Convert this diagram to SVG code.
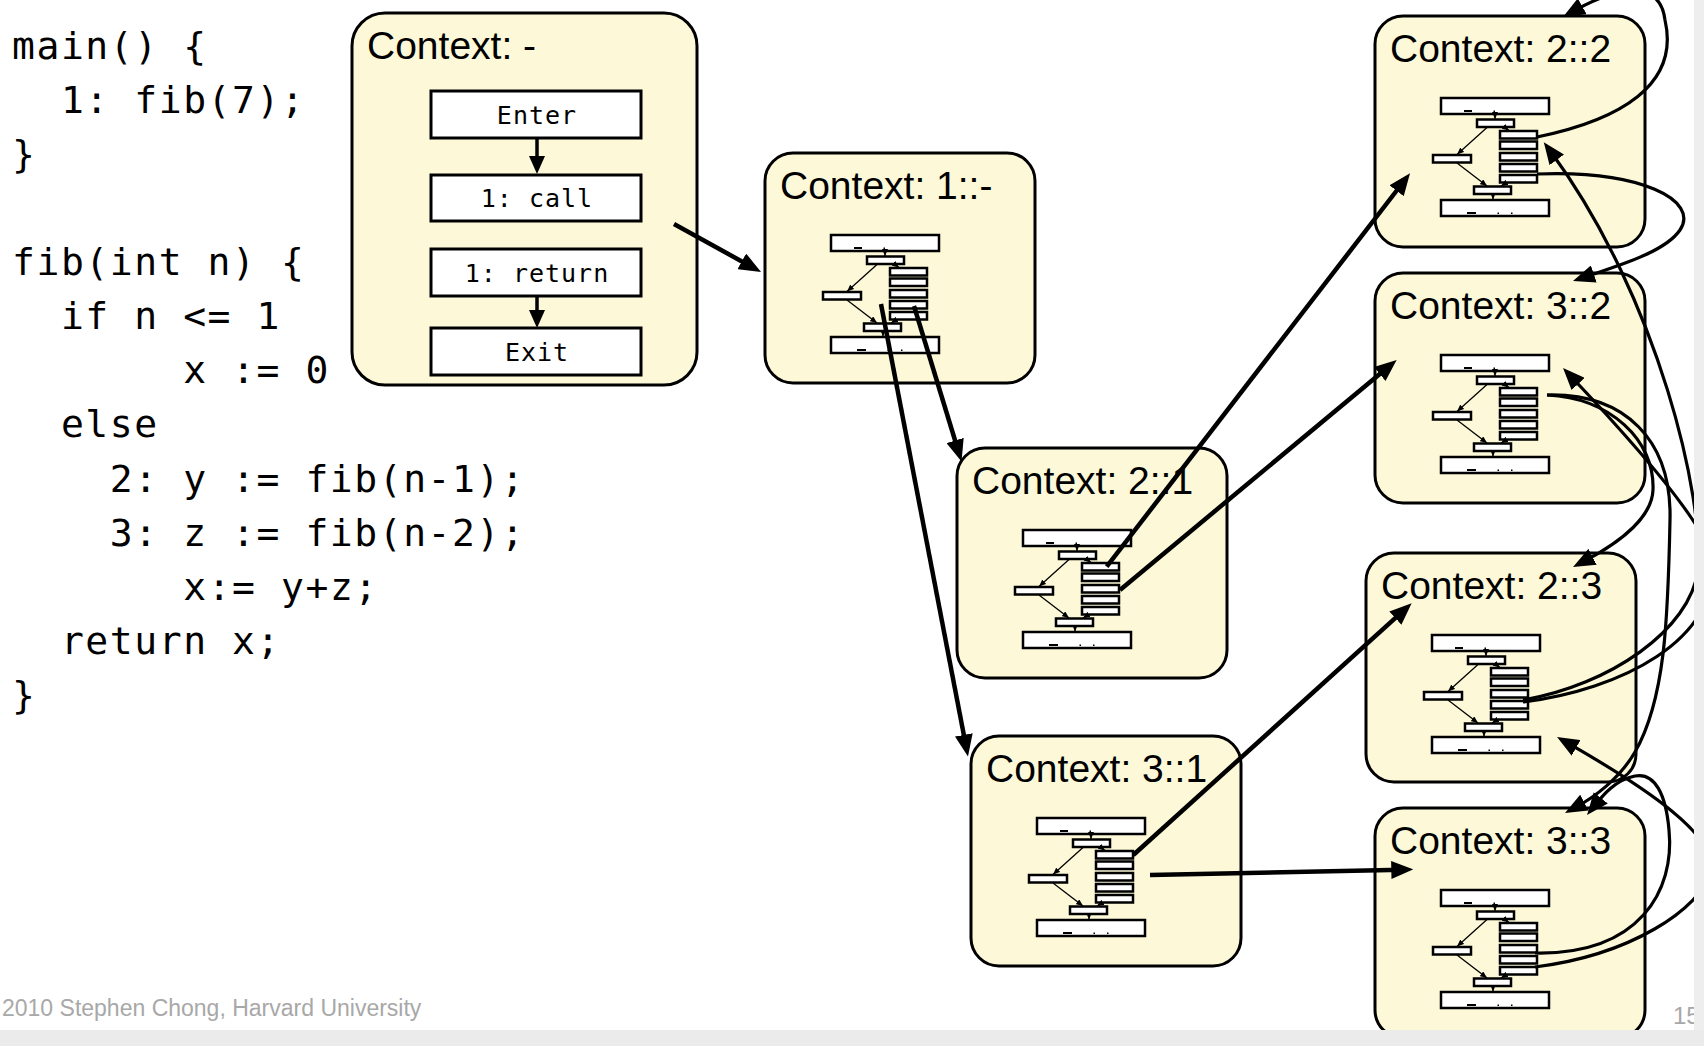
<svg xmlns="http://www.w3.org/2000/svg" width="1704" height="1056" viewBox="0 0 1704 1056">
<style>
.code{font-family:"DejaVu Sans Mono",monospace;font-size:38px;letter-spacing:1.57px;fill:#000}
.ctx{fill:#FDF9D8;stroke:#000;stroke-width:3}
.ttl{font-family:"Liberation Sans",Arial,sans-serif;font-size:39px;fill:#000}
.bx{fill:#fff;stroke:#000;stroke-width:3}
.bt{font-family:"DejaVu Sans Mono",monospace;font-size:25px;letter-spacing:1px;text-anchor:middle;fill:#000}
.mb{fill:#fff;stroke:#000;stroke-width:2.5}
.ml{fill:none;stroke:#000;stroke-width:1.3;marker-end:url(#sa)}
.thick{fill:none;stroke:#000;stroke-width:4.5;marker-end:url(#ah)}
.crv{fill:none;stroke:#000;stroke-width:3.2;marker-end:url(#ah)}
.inner{fill:none;stroke:#000;stroke-width:3.5;marker-end:url(#ah2)}
.foot{font-family:"Liberation Sans",Arial,sans-serif;font-size:23px;fill:#A8A8A8}
</style>
<defs>
<marker id="ah" markerUnits="userSpaceOnUse" markerWidth="22" markerHeight="18" viewBox="0 0 22 18" refX="11" refY="9" orient="auto"><path d="M0,0 L22,9 L0,18 Z" fill="#000"/></marker>
<marker id="ah2" markerUnits="userSpaceOnUse" markerWidth="18" markerHeight="16" viewBox="0 0 18 16" refX="9" refY="8" orient="auto"><path d="M0,0 L18,8 L0,16 Z" fill="#000"/></marker>
<marker id="sa" markerUnits="userSpaceOnUse" markerWidth="7" markerHeight="6" viewBox="0 0 7 6" refX="7" refY="3" orient="auto"><path d="M0,0 L7,3 L0,6 Z" fill="#000"/></marker>
<g id="mini">
<rect class="mb" x="66" y="82" width="108" height="16"/>
<rect class="mb" x="102" y="103.5" width="37" height="7.5"/>
<rect class="mb" x="125" y="115" width="37" height="7.5"/>
<rect class="mb" x="125" y="125.5" width="37" height="7.5"/>
<rect class="mb" x="125" y="137" width="37" height="7.5"/>
<rect class="mb" x="125" y="148" width="37" height="7.5"/>
<rect class="mb" x="125" y="159" width="37" height="7.5"/>
<rect class="mb" x="58" y="139" width="38" height="7.5"/>
<rect class="mb" x="99" y="170.5" width="37" height="7.5"/>
<rect class="mb" x="66" y="184" width="108" height="16"/>
<rect x="89" y="94" width="8" height="2" fill="#000"/>
<rect x="118.5" y="94.5" width="1.5" height="1.5" fill="#000"/>
<rect x="92" y="196" width="9" height="2" fill="#000"/>
<rect x="122.5" y="196.5" width="1.5" height="1.5" fill="#000"/>
<rect x="136" y="196.5" width="1.5" height="1.5" fill="#000"/>
<path class="ml" d="M120,98.5 V103"/>
<path class="ml" d="M112,111.5 L82,138.5"/>
<path class="ml" d="M82,147 L112,170"/>
<path class="ml" d="M130,111.5 L134,114.5"/>
<path class="ml" d="M131,167 L126,170"/>
<path class="ml" d="M118,178.5 V183.5"/>
</g>
</defs>
<rect x="0" y="0" width="1704" height="1056" fill="#fff"/>

<g id="code">
<text class="code" x="12" y="59">main() {</text>
<text class="code" x="60.9" y="113">1: fib(7);</text>
<text class="code" x="12" y="167">}</text>
<text class="code" x="12" y="275">fib(int n) {</text>
<text class="code" x="60.9" y="329">if n &lt;= 1</text>
<text class="code" x="183.2" y="383">x := 0</text>
<text class="code" x="60.9" y="437">else</text>
<text class="code" x="109.8" y="492">2: y := fib(n-1);</text>
<text class="code" x="109.8" y="546">3: z := fib(n-2);</text>
<text class="code" x="183.2" y="600">x:= y+z;</text>
<text class="code" x="60.9" y="654">return x;</text>
<text class="code" x="12" y="708">}</text>
</g>

<g id="ctx-main">
<rect class="ctx" x="352" y="13" width="345" height="372" rx="33"/>
<text class="ttl" x="367" y="59">Context: -</text>
<rect class="bx" x="431" y="91" width="210" height="47"/>
<text class="bt" x="537" y="124">Enter</text>
<rect class="bx" x="431" y="175" width="210" height="46"/>
<text class="bt" x="537" y="207">1: call</text>
<rect class="bx" x="431" y="249" width="210" height="47"/>
<text class="bt" x="537" y="282">1: return</text>
<rect class="bx" x="431" y="328" width="210" height="47"/>
<text class="bt" x="537" y="361">Exit</text>
</g>

<g id="ctx-1">
<rect class="ctx" x="765" y="153" width="270" height="230" rx="28"/>
<text class="ttl" x="780" y="199">Context: 1::-</text>
<use href="#mini" x="765" y="153"/>
</g>
<g id="ctx-2-1">
<rect class="ctx" x="957" y="448" width="270" height="230" rx="28"/>
<text class="ttl" x="972" y="494">Context: 2::1</text>
<use href="#mini" x="957" y="448"/>
</g>
<g id="ctx-3-1">
<rect class="ctx" x="971" y="736" width="270" height="230" rx="28"/>
<text class="ttl" x="986" y="782">Context: 3::1</text>
<use href="#mini" x="971" y="736"/>
</g>
<g id="ctx-2-2">
<rect class="ctx" x="1375" y="16" width="270" height="231" rx="28"/>
<text class="ttl" x="1390" y="62">Context: 2::2</text>
<use href="#mini" x="1375" y="16"/>
</g>
<g id="ctx-3-2">
<rect class="ctx" x="1375" y="273" width="270" height="230" rx="28"/>
<text class="ttl" x="1390" y="319">Context: 3::2</text>
<use href="#mini" x="1375" y="273"/>
</g>
<g id="ctx-2-3">
<rect class="ctx" x="1366" y="553" width="270" height="229" rx="28"/>
<text class="ttl" x="1381" y="599">Context: 2::3</text>
<use href="#mini" x="1366" y="553"/>
</g>
<g id="ctx-3-3">
<rect class="ctx" x="1375" y="808" width="270" height="230" rx="28"/>
<text class="ttl" x="1390" y="854">Context: 3::3</text>
<use href="#mini" x="1375" y="808"/>
</g>

<g id="connectors">
<path class="inner" d="M537,138 V165"/>
<path class="inner" d="M537,296 V319"/>
<path class="thick" d="M674,224 L751.4,266.7"/>
<path class="thick" d="M914,306 L958.3,451"/>
<path class="thick" d="M881,304 L965.9,745.7"/>
<path class="thick" d="M1106.7,566.7 L1403.3,182"/>
<path class="thick" d="M1120,590 L1388.2,367"/>
<path class="thick" d="M1133.3,855 L1403.5,610.7"/>
<path class="thick" d="M1150,875 L1402.3,869.7"/>
<path class="crv" d="M1537,137 C1620,120 1680,85 1665,20 C1660,-20 1620,-15 1572.6,11.6"/>
<path class="crv" d="M1537,174 C1640,170 1700,200 1680,230 C1665,252 1620,265 1583.4,277.5"/>
<path class="crv" d="M1523,700 C1610,685 1690,630 1698,570 C1704,500 1660,300 1550.3,151"/>
<path class="crv" d="M1523,702 C1620,690 1720,640 1712,560 C1708,530 1650,460 1570.6,376"/>
<path class="crv" d="M1547,395 C1610,398 1655,440 1653,490 C1652,515 1625,540 1582.8,561.9"/>
<path class="crv" d="M1547,395 C1625,393 1672,440 1670,520 C1668,620 1665,700 1635,752 C1620,778 1595,797 1574.7,807.8"/>
<path class="crv" d="M1535,953 C1640,955 1675,890 1669,830 C1666,795 1655,772 1635,776 C1615,780 1603,795 1593.9,806.4"/>
<path class="crv" d="M1535,967 C1630,955 1700,910 1712,870 C1715,835 1650,790 1566.6,742.4"/>
</g>

<g id="footer">
<text class="foot" x="2" y="1016">2010 Stephen Chong, Harvard University</text>
<text class="foot" x="1673" y="1024" style="font-size:24px">15</text>
<rect x="1694" y="0" width="10" height="1046" fill="#EEEEEE"/>
<rect x="0" y="1030" width="1704" height="16" fill="#EBEBEB"/>
</g>
</svg>
